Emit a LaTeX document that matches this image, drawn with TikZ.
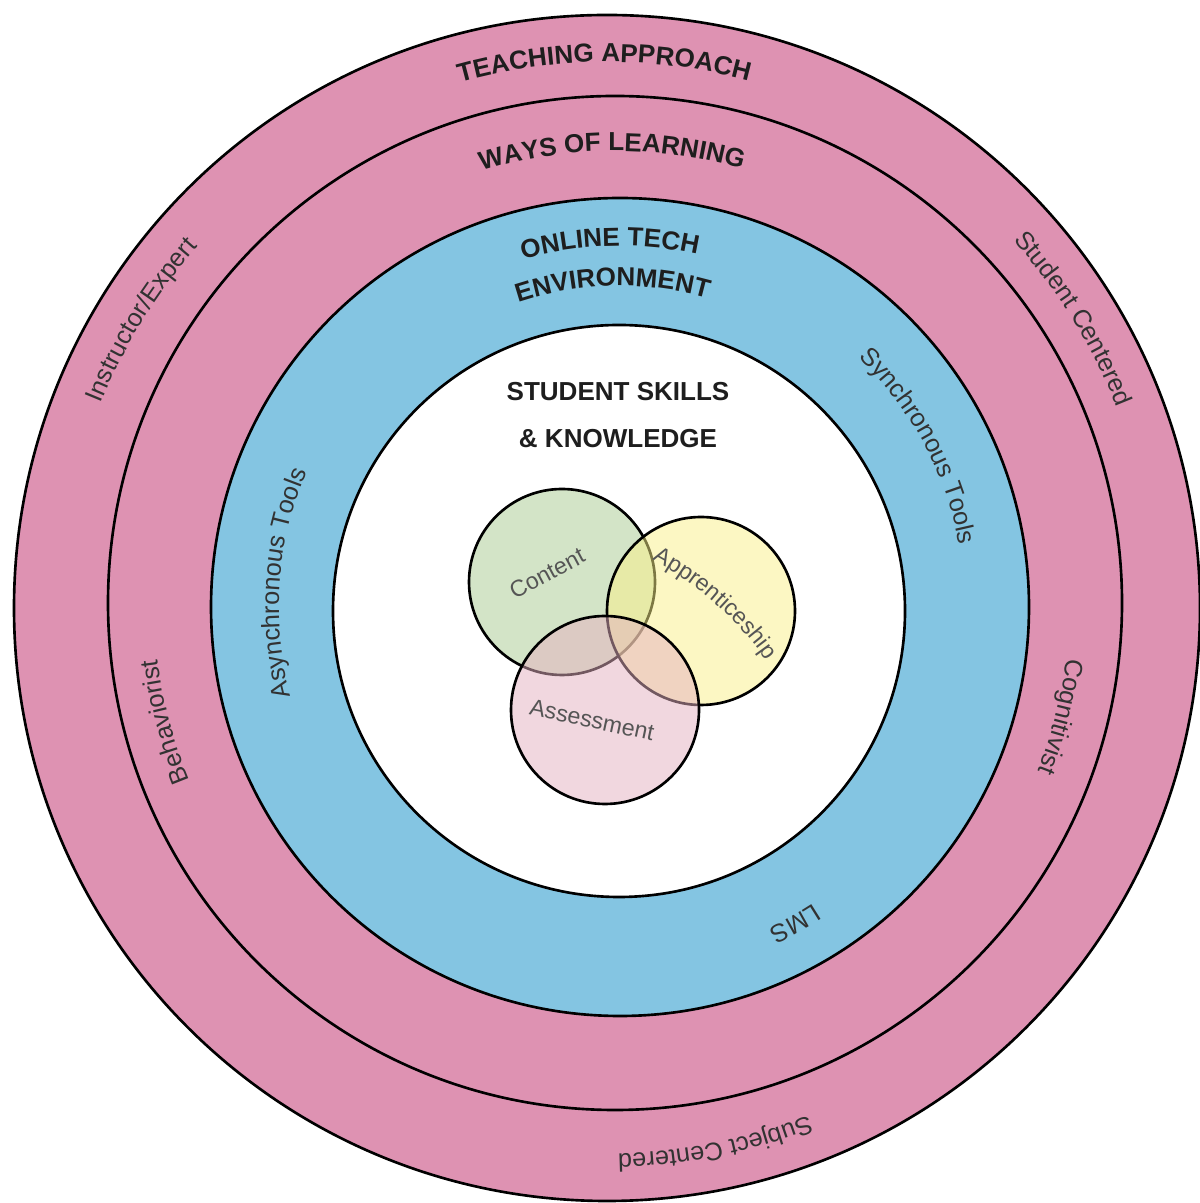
\documentclass[tikz,border=0pt]{standalone}
\usepackage{fontspec}
\setmainfont{Liberation Sans}
\usetikzlibrary{decorations.text}
\definecolor{RingClr}{RGB}{222,146,178}
\definecolor{TechClr}{RGB}{132,197,226}
\definecolor{ContentClr}{RGB}{169,203,145}
\definecolor{ApprClr}{RGB}{251,241,137}
\definecolor{AssessClr}{RGB}{229,177,193}
\definecolor{HeadClr}{RGB}{30,30,30}
\definecolor{LabelClr}{RGB}{50,50,50}
\definecolor{VennTxtClr}{RGB}{85,85,85}

\newcommand{\headfont}{\fontsize{7.4}{13.4}\selectfont\bfseries}
\newcommand{\labelfont}{\fontsize{7.2}{9}\selectfont}
\newcommand{\vennfont}{\fontsize{6.6}{8}\selectfont}
% text on a clockwise arc: centre, radius, mid angle, half span, text
\newcommand{\arclabel}[5]{%
  \path[decorate,decoration={text along path,text align=center,text={#5}}]
    (#1) ++(#3+#4:#2) arc[start angle=#3+#4,end angle=#3-#4,radius=#2];}

\begin{document}
\begin{tikzpicture}[x=0.01cm,y=0.01cm]
\tikzset{
  ring/.style={draw=black,line width=0.75pt},
  venn/.style={draw=black,line width=0.75pt,fill opacity=0.5},
  venntext/.style={font=\vennfont,text=VennTxtClr,inner sep=0pt}
}
\useasboundingbox (0,0) rectangle (1199,1203);

\coordinate (O1) at (607,595);
\coordinate (O2) at (615,600);
\coordinate (O3) at (620,596);
\coordinate (O4) at (619,592);
\coordinate (C) at (562,621);
\coordinate (P) at (701,592);
\coordinate (S) at (605,493);

% Rings, outside in.
\draw[ring,fill=RingClr] (O1) circle[radius=593];
\draw[ring,fill=RingClr] (O2) circle[radius=507];
\draw[ring,fill=TechClr] (O3) circle[radius=409];
\draw[ring,fill=white] (O4) circle[radius=286];

% Ring titles.
\arclabel{O1}{546}{90.3}{30}{|\headfont\color{HeadClr}|TEACHING APPROACH}
\arclabel{O2}{452}{90.4}{30}{|\headfont\color{HeadClr}|WAYS OF LEARNING}
\arclabel{O3}{361}{91.6}{35}{|\headfont\color{HeadClr}|ONLINE TECH}
\arclabel{O3}{321}{91.3}{40}{|\headfont\color{HeadClr}|ENVIRONMENT}

% Ring labels.
\arclabel{O1}{546}{148.3}{25}{|\labelfont\color{LabelClr}|Instructor/Expert}
\arclabel{O1}{548}{31.8}{25}{|\labelfont\color{LabelClr}|Student Centered}
\arclabel{O1}{546}{-78.6}{25}{|\labelfont\color{LabelClr}|Subject Centered}
\arclabel{O2}{461}{194.8}{25}{|\labelfont\color{LabelClr}|Behaviorist}
\arclabel{O2}{455}{-14.3}{25}{|\labelfont\color{LabelClr}|Cognitivist}
\arclabel{O3}{341}{175.9}{35}{|\labelfont\color{LabelClr}|Asynchronous Tools}
\arclabel{O3}{345}{28.3}{35}{|\labelfont\color{LabelClr}|Synchronous Tools}
\arclabel{O3}{354}{-61}{25}{|\labelfont\color{LabelClr}|LMS}

\node[font=\headfont,text=HeadClr,align=center] (skills) at (618,788)
  {STUDENT SKILLS\\\& KNOWLEDGE};

% Venn of the three skills.
\draw[venn,fill=ContentClr] (C) circle[radius=93];
\draw[venn,fill=ApprClr] (P) circle[radius=94];
\draw[venn,fill=AssessClr] (S) circle[radius=94];

\node[venntext,rotate=28] (content) at (547,630) {Content};
\node[venntext,rotate=-12] (assess) at (592,483) {Assessment};
\path[decorate,decoration={text along path,text align=center,
  text={|\vennfont\color{VennTxtClr}|Apprenticeship}}]
  (503,360) ++(64.5:320) arc[start angle=64.5,end angle=32.5,radius=320];

\end{tikzpicture}
\end{document}
